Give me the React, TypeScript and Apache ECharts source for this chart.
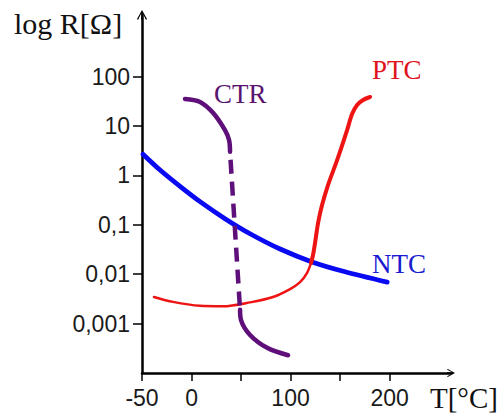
import React, { useEffect, useRef } from "react";
import * as echarts from "echarts";

// Axis ticks (y values are log10 of R in ohms)
const yTickValues = [-3, -2, -1, 0, 1, 2];
const yTickLabels = ["0,001", "0,01", "0,1", "1", "10", "100"];
const xTickValues = [-50, 0, 50, 100, 150, 200];
const xLabelValues = [-50, 0, 100, 200];

// NTC
const ntcT = [-49, -31.8, -11.6, 8.6, 33.8, 59.1, 89.4, 121.7, 155.1, 197.5];
const ntcLogR = [0.43, 0.11, -0.22, -0.53, -0.875, -1.18, -1.49, -1.75, -1.95, -2.16];

// PTC (lower thin part, upper thick part)
const ptcLowT = [-37.9, -18.7, 8.6, 31.8, 59.1, 82.3, 99.5, 109.6, 116.7, 120.7];
const ptcLowLogR = [-2.46, -2.56, -2.64, -2.65, -2.57, -2.46, -2.3, -2.16, -1.97, -1.77];
const ptcHighT = [120.7, 122.7, 124.7, 127.8, 131.8, 137.9, 147, 157.1, 162.1, 167.2, 173.2, 180.3];
const ptcHighLogR = [-1.77, -1.61, -1.37, -0.96, -0.6, -0.19, 0.31, 0.92, 1.245, 1.427, 1.53, 1.59];

// CTR (top solid, dashed drop, bottom solid)
const ctrTopT = [-6.6, 8.6, 21.7, 33.8, 37.9, 38.9];
const ctrTopLogR = [1.55, 1.49, 1.27, 0.92, 0.72, 0.48];
const ctrDropT = [38.9, 49];
const ctrDropLogR = [0.48, -2.72];
const ctrBottomT = [49, 50, 59.1, 76.3, 97.5];
const ctrBottomLogR = [-2.72, -2.93, -3.23, -3.49, -3.64];

const zip = (xs: number[], ys: number[]) => xs.map((x, i) => [x, ys[i]]);

const ARROW =
  "path://M5,0 L10,9 L9,10 L5.8,3.6 L5.8,10 L4.2,10 L4.2,3.6 L1,10 L0,9 Z";

const BLUE = "#0a0af2";
const RED = "#ee1414";
const PURPLE = "#5e0f7a";

export default function App() {
  const ref = useRef<HTMLDivElement>(null);

  useEffect(() => {
    document.body.style.margin = "0";
    if (!ref.current) return;
    const chart = echarts.init(ref.current, null, { renderer: "svg" });

    const lineSeries = (
      name: string,
      data: number[][],
      color: string,
      width: number,
      smooth: number | boolean,
      dashed?: boolean
    ) => ({
      name,
      type: "line",
      data,
      symbol: "none",
      showSymbol: false,
      smooth,
      lineStyle: {
        color,
        width,
        cap: dashed ? "butt" : "round",
        join: "round",
        type: dashed ? [14, 8] : "solid",
        dashOffset: dashed ? 14 : 0,
      },
      silent: true,
    });

    const serif = '"Liberation Serif", "Times New Roman", serif';
    const sans = '"Liberation Sans", Arial, sans-serif';

    chart.setOption({
      animation: false,
      backgroundColor: "#ffffff",
      grid: {
        left: 142,
        right: 53,
        top: 15,
        bottom: 44,
        containLabel: false,
        outerBoundsMode: "none",
      },
      xAxis: {
        type: "value",
        min: -50,
        max: 262,
        axisLine: {
          show: true,
          onZero: false,
          symbol: ["none", ARROW],
          symbolSize: [8, 10],
          lineStyle: { color: "#000", width: 2.5 },
        },
        axisTick: {
          show: true,
          length: 8,
          customValues: xTickValues,
          lineStyle: { color: "#000", width: 1.5 },
        },
        axisLabel: {
          customValues: xLabelValues,
          fontSize: 23,
          color: "#1a1a1a",
          fontFamily: sans,
          margin: 13,
        },
        splitLine: { show: false },
      },
      yAxis: {
        type: "value",
        min: -4,
        max: 3.25,
        axisLine: {
          show: true,
          onZero: false,
          symbol: ["none", ARROW],
          symbolSize: [10, 10],
          lineStyle: { color: "#000", width: 2.5 },
        },
        axisTick: {
          show: true,
          length: 9,
          customValues: yTickValues,
          lineStyle: { color: "#000", width: 1.5 },
        },
        axisLabel: {
          customValues: yTickValues,
          fontSize: 23,
          color: "#1a1a1a",
          fontFamily: sans,
          margin: 12,
          formatter: (v: number) => {
            const i = yTickValues.indexOf(Math.round(v));
            return i >= 0 ? yTickLabels[i] : "";
          },
        },
        splitLine: { show: false },
      },
      series: [
        lineSeries("NTC", zip(ntcT, ntcLogR), BLUE, 4.8, 0.3),
        lineSeries("PTC low", zip(ptcLowT, ptcLowLogR), RED, 2.5, 0.3),
        lineSeries("PTC high", zip(ptcHighT, ptcHighLogR), RED, 4, 0.3),
        lineSeries("CTR top", zip(ctrTopT, ctrTopLogR), PURPLE, 4.5, 0.35),
        lineSeries("CTR drop", zip(ctrDropT, ctrDropLogR), PURPLE, 4.5, false, true),
        lineSeries("CTR bottom", zip(ctrBottomT, ctrBottomLogR), PURPLE, 4.5, 0.35),
      ],
      graphic: [
        {
          type: "text",
          x: 14,
          y: 23,
          style: { text: "log R[Ω]", fill: "#111", font: `30px ${serif}`, align: "left", verticalAlign: "middle" },
        },
        {
          type: "text",
          x: 430,
          y: 398,
          style: { text: "T[°C]", fill: "#111", font: `29px ${serif}`, align: "left", verticalAlign: "middle" },
        },
        {
          type: "text",
          x: 214,
          y: 94,
          style: { text: "CTR", fill: "#5a1470", font: `27px ${serif}`, align: "left", verticalAlign: "middle" },
        },
        {
          type: "text",
          x: 372,
          y: 70,
          style: { text: "PTC", fill: "#e0121c", font: `27px ${serif}`, align: "left", verticalAlign: "middle" },
        },
        {
          type: "text",
          x: 372,
          y: 264,
          style: { text: "NTC", fill: "#1a1ad0", font: `27px ${serif}`, align: "left", verticalAlign: "middle" },
        },
      ],
    });

    return () => chart.dispose();
  }, []);

  return <div ref={ref} style={{ width: 504, height: 417 }} />;
}
